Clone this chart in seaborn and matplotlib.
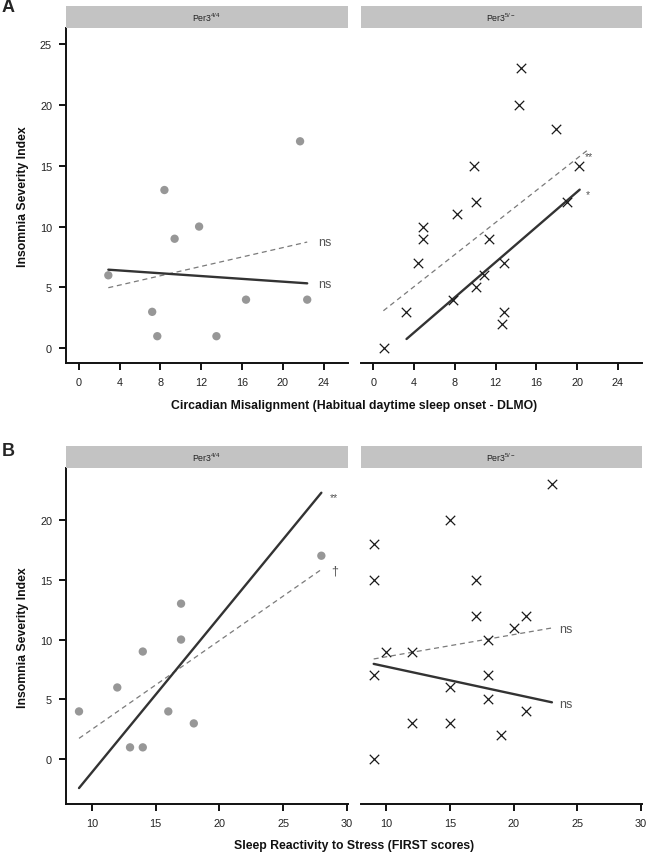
import matplotlib as mpl
mpl.use('Agg')
import matplotlib.pyplot as plt
import seaborn as sns

# %% data

# A: circadian misalignment vs ISI
a44_x = [2.9, 7.2, 7.7, 8.4, 9.4, 11.8, 13.5, 16.4, 21.7, 22.4]
a44_y = [6, 3, 1, 13, 9, 10, 1, 4, 17, 4]
a5_x = [1.0, 3.2, 4.4, 4.9, 4.9, 7.8, 8.2, 9.9, 10.1, 10.1,
        10.9, 11.4, 12.6, 12.8, 12.8, 14.3, 14.5, 17.9, 19.0, 20.2]
a5_y = [0, 3, 7, 9, 10, 4, 11, 15, 12, 5,
        6, 9, 2, 7, 3, 20, 23, 18, 12, 15]

# B: FIRST scores vs ISI
b44_x = [9, 12, 13, 14, 14, 16, 17, 17, 18, 28]
b44_y = [4, 6, 1, 1, 9, 4, 13, 10, 3, 17]
b5_x = [9, 9, 9, 9, 10, 12, 12, 15, 15, 15,
        17, 17, 18, 18, 18, 19, 20, 21, 21, 23]
b5_y = [18, 15, 7, 0, 9, 9, 3, 20, 6, 3,
        15, 12, 10, 7, 5, 2, 11, 12, 4, 23]

# fitted lines (end points) solid / dashed
a44_solid_x, a44_solid_y = [2.9, 22.4], [6.46, 5.34]
a44_dash_x, a44_dash_y = [2.9, 22.4], [4.98, 8.73]
a5_solid_x, a5_solid_y = [3.25, 20.26], [0.77, 13.03]
a5_dash_x, a5_dash_y = [0.98, 20.98], [3.09, 16.24]
b44_solid_x, b44_solid_y = [9.0, 28.0], [-2.4, 22.26]
b44_dash_x, b44_dash_y = [9.0, 28.0], [1.75, 15.85]
b5_solid_x, b5_solid_y = [9.0, 23.0], [7.97, 4.76]
b5_dash_x, b5_dash_y = [9.0, 23.0], [8.38, 10.97]

# significance marks
a44_sig = [('ns', 23.5, 8.7), ('ns', 23.5, 5.25)]
a5_sig = [('**', 20.8, 16.3), ('*', 20.9, 13.2)]
b44_sig = [('**', 28.7, 22.4), ('\u2020', 28.8, 15.8)]
b5_sig = [('ns', 23.55, 10.9), ('ns', 23.55, 4.6)]

strip_labels = ['Per3$^{4/4}$', 'Per3$^{5/-}$']

# %% style
sns.set_style('ticks')
plt.rcParams['font.family'] = ['Liberation Sans', 'DejaVu Sans']
plt.rcParams['mathtext.fontset'] = 'custom'
plt.rcParams['mathtext.rm'] = 'Liberation Sans'
plt.rcParams['mathtext.default'] = 'regular'

W, H = 647, 853
fig = plt.figure(figsize=(W / 100, H / 100), dpi=100)


def box(x0, x1, ytop, ybot):
    return [x0 / W, 1 - ybot / H, (x1 - x0) / W, (ybot - ytop) / H]


def panel(x0, x1, ytop, ybot, xlim, ylim, xticks, yticks, left):
    ax = fig.add_axes(box(x0, x1, ytop, ybot))
    ax.set_xlim(xlim)
    ax.set_ylim(ylim)
    ax.set_xticks(xticks)
    ax.set_yticks(yticks)
    sns.despine(ax=ax, top=True, right=True, left=not left)
    for s in ['left', 'bottom']:
        ax.spines[s].set_linewidth(1.4)
        ax.spines[s].set_color('#111111')
    ax.tick_params(width=1.4, length=5, pad=5, labelsize=7.8,
                   labelcolor='#222222', color='#111111')
    if not left:
        ax.tick_params(axis='y', left=False, labelleft=False)
    ax.set_xlabel('')
    ax.set_ylabel('')
    return ax


def strip(x0, x1, ytop, ybot, label):
    s = fig.add_axes(box(x0, x1, ytop, ybot))
    s.set_facecolor('#c3c3c3')
    s.set_xticks([])
    s.set_yticks([])
    for sp in s.spines.values():
        sp.set_visible(False)
    s.text(0.5, 0.5, label, ha='center', va='center', fontsize=6.3,
           color='#222222', transform=s.transAxes)


def draw(ax, x, y, marker, sx, sy, dx, dy, sig):
    if marker == 'o':
        sns.scatterplot(x=x, y=y, ax=ax, marker='o', color='#979797',
                        s=36, edgecolor='none', zorder=3)
    else:
        sns.scatterplot(x=x, y=y, ax=ax, marker='x', color='#1a1a1a',
                        s=46, linewidth=0.9, zorder=3)
    sns.lineplot(x=dx, y=dy, ax=ax, color='#7a7a7a', lw=0.9,
                 linestyle=(0, (4, 3)), zorder=2)
    sns.lineplot(x=sx, y=sy, ax=ax, color='#333333', lw=1.7, zorder=2)
    for t, tx, ty in sig:
        if '*' in t:
            # asterisks sit high in the glyph box, nudge down
            ax.text(tx, ty - 0.5, t, ha='left', va='center', fontsize=7.5,
                    color='#555555', clip_on=False)
        else:
            ax.text(tx, ty, t, ha='left', va='center', fontsize=9,
                    color='#555555', clip_on=False)
    ax.set_xlabel('')
    ax.set_ylabel('')


# %% panel A
Lx0, Lx1, Rx0, Rx1 = 66, 347.5, 360.7, 641.7
A_top, A_bot = 29, 364
B_top, B_bot = 469.3, 805

xa = (-1.25, 26.35)
ya = (-1.2, 26.3)
ax = panel(Lx0, Lx1, A_top, A_bot, xa, ya, range(0, 25, 4), range(0, 26, 5), True)
draw(ax, a44_x, a44_y, 'o', a44_solid_x, a44_solid_y, a44_dash_x, a44_dash_y, a44_sig)
ax = panel(Rx0, Rx1, A_top, A_bot, xa, ya, range(0, 25, 4), range(0, 26, 5), False)
draw(ax, a5_x, a5_y, 'x', a5_solid_x, a5_solid_y, a5_dash_x, a5_dash_y, a5_sig)
strip(Lx0, Lx1, 7.3, A_top, strip_labels[0])
strip(Rx0, Rx1, 7.3, A_top, strip_labels[1])

# %% panel B
xb = (7.98, 30.05)
yb = (-3.73, 24.3)
ax = panel(Lx0, Lx1, B_top, B_bot, xb, yb, range(10, 31, 5), range(0, 21, 5), True)
draw(ax, b44_x, b44_y, 'o', b44_solid_x, b44_solid_y, b44_dash_x, b44_dash_y, b44_sig)
ax = panel(Rx0, Rx1, B_top, B_bot, xb, yb, range(10, 31, 5), range(0, 21, 5), False)
draw(ax, b5_x, b5_y, 'x', b5_solid_x, b5_solid_y, b5_dash_x, b5_dash_y, b5_sig)
strip(Lx0, Lx1, 446.7, B_top, strip_labels[0])
strip(Rx0, Rx1, 446.7, B_top, strip_labels[1])

# %% labels
fig.text(2 / W, 1 - 8 / H, 'A', fontsize=13, fontweight='bold', va='center', ha='left')
fig.text(2 / W, 1 - 452 / H, 'B', fontsize=13, fontweight='bold', va='center', ha='left')
for yc in [(A_top + A_bot) / 2, (B_top + B_bot) / 2]:
    fig.text(23 / W, 1 - yc / H, 'Insomnia Severity Index', rotation=90,
             ha='center', va='center', fontsize=8.8, fontweight='bold', color='#111111')
fig.text(354 / W, 1 - 406 / H, 'Circadian Misalignment (Habitual daytime sleep onset - DLMO)',
         ha='center', va='center', fontsize=8.8, fontweight='bold', color='#111111')
fig.text(354 / W, 1 - 846 / H, 'Sleep Reactivity to Stress (FIRST scores)',
         ha='center', va='center', fontsize=8.8, fontweight='bold', color='#111111')

plt.savefig('out.png', dpi=100)
